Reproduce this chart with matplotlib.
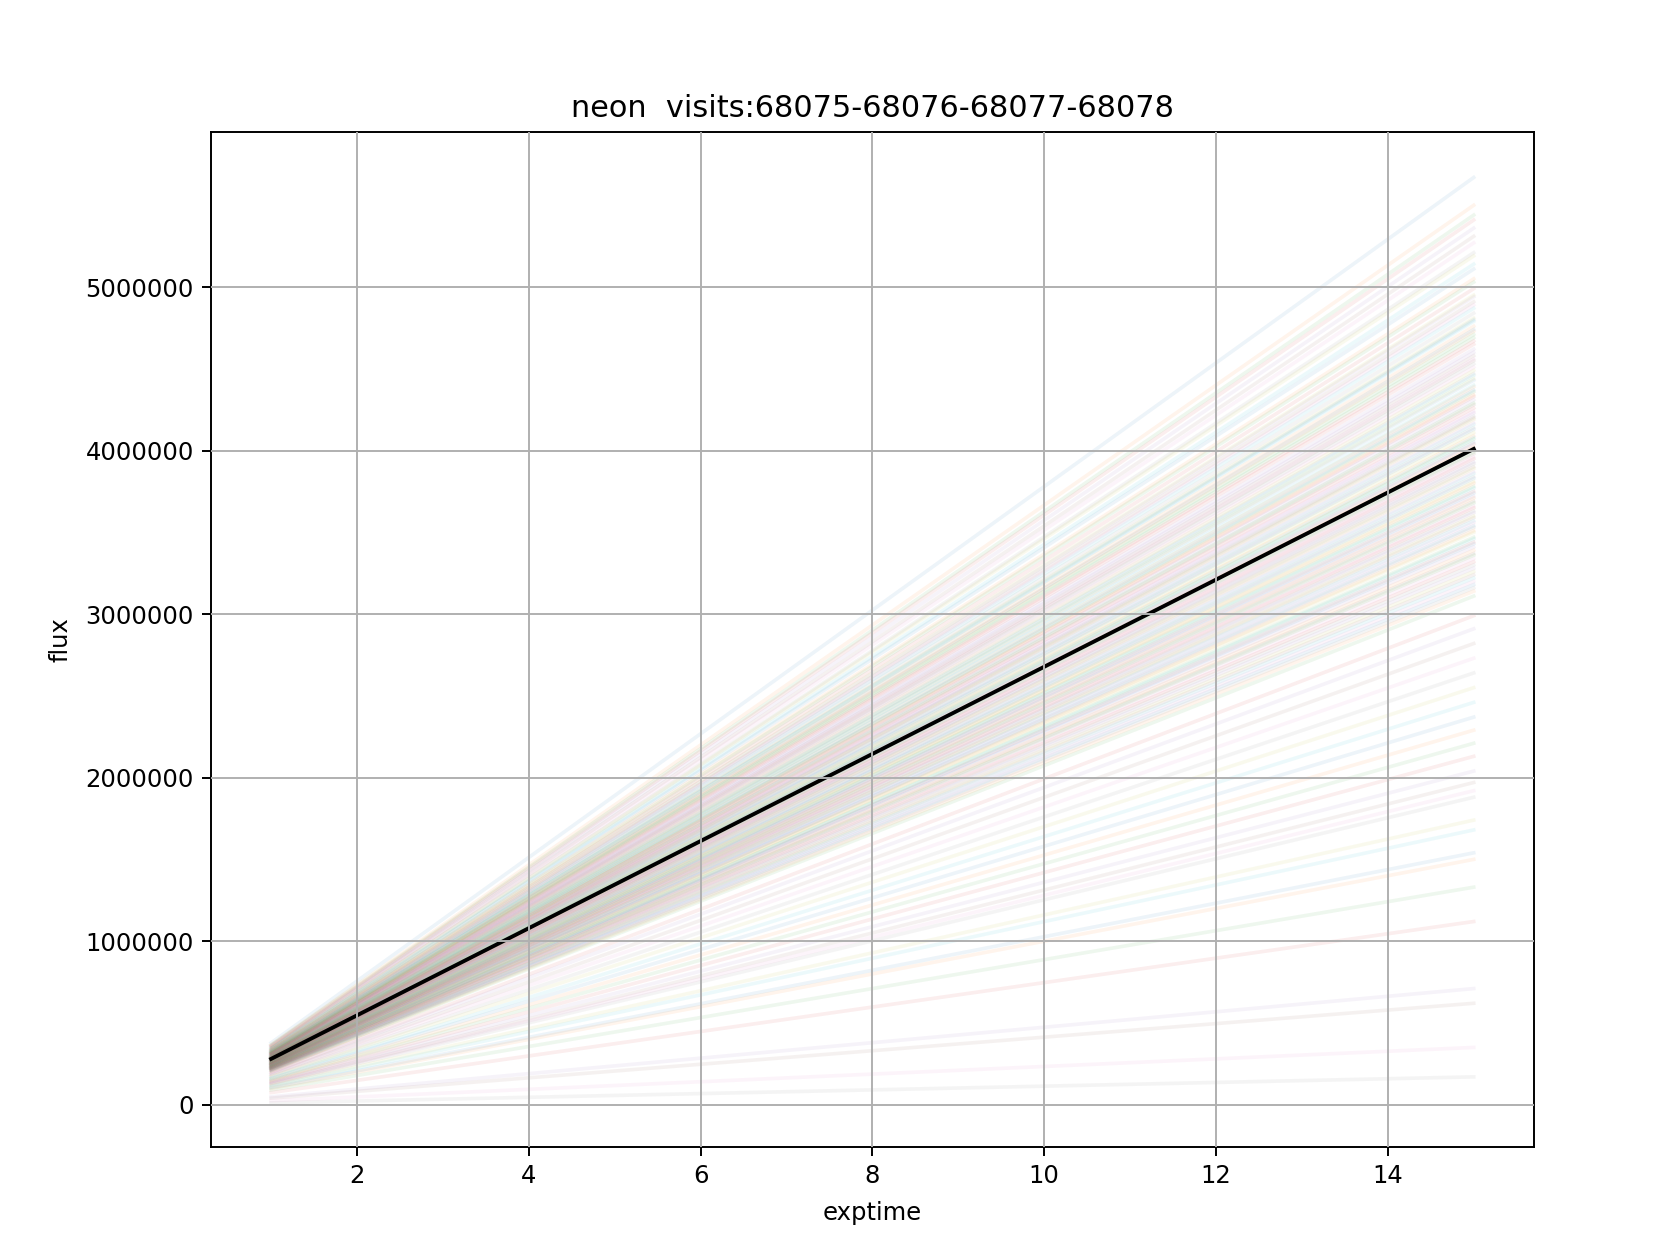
import matplotlib
matplotlib.use("Agg")
import matplotlib.pyplot as plt

# exposure times (s) at which each fibre's flux is shown
exptime = [1, 15]

# flux per fibre at the shortest and longest exposure
flux_start = [378000, 366000, 364000, 360000, 358000, 353000, 352000, 346000, 347000, 342000,
              341000, 338000, 334000, 333000, 330000, 326000, 327000, 322000, 321000, 320000,
              315000, 316000, 312000, 311000, 309000, 304000, 305000, 301000, 300000, 296000,
              296000, 293000, 290000, 289000, 288000, 284000, 283000, 281000, 278000, 278000,
              274000, 273000, 270000, 270000, 266000, 266000, 263000, 262000, 258000, 258000,
              254000, 254000, 251000, 250000, 247000, 247000, 243000, 243000, 239000, 239000,
              235000, 235000, 230000, 230000, 226000, 226000, 222000, 221000, 216000, 216000,
              213000, 208000, 208000, 198000, 195000, 187000, 183000, 175000, 171000, 163000,
              159000, 152000, 148000, 141000, 137000, 130000, 129000, 124000, 117000, 111000,
              104000, 99000, 90000, 74000, 48000, 40000, 24000, 11000,
              330000, 325000, 320000, 317000, 314000, 310000, 307000, 303000, 301000, 298000,
              296000, 293000, 291000, 289000, 286000, 284000, 282000, 280000, 278000, 276000,
              274000, 272000, 270000, 268000, 266000, 263000, 262000, 260000, 258000, 256000,
              254000, 251000, 249000, 247000, 245000, 243000, 241000, 239000, 237000, 235000,
              233000, 231000, 229000, 226000, 224000, 221000, 219000, 216000, 213000, 211000]
flux_end = [5670000, 5500000, 5440000, 5410000, 5360000, 5310000, 5270000, 5210000, 5190000, 5140000,
            5110000, 5050000, 5030000, 4990000, 4940000, 4910000, 4890000, 4840000, 4810000, 4790000,
            4740000, 4730000, 4690000, 4670000, 4620000, 4580000, 4560000, 4530000, 4490000, 4460000,
            4430000, 4390000, 4360000, 4330000, 4310000, 4280000, 4240000, 4210000, 4190000, 4160000,
            4130000, 4090000, 4070000, 4040000, 4010000, 3980000, 3960000, 3920000, 3890000, 3860000,
            3830000, 3800000, 3780000, 3750000, 3720000, 3690000, 3660000, 3630000, 3600000, 3570000,
            3540000, 3510000, 3470000, 3440000, 3410000, 3370000, 3340000, 3300000, 3260000, 3220000,
            3180000, 3140000, 3110000, 2990000, 2910000, 2820000, 2730000, 2640000, 2550000, 2460000,
            2370000, 2290000, 2210000, 2130000, 2040000, 1970000, 1920000, 1880000, 1740000, 1680000,
            1540000, 1500000, 1330000, 1120000, 710000, 620000, 350000, 170000,
            4950000, 4870000, 4800000, 4760000, 4710000, 4650000, 4600000, 4550000, 4510000, 4470000,
            4440000, 4400000, 4370000, 4340000, 4290000, 4260000, 4230000, 4200000, 4170000, 4140000,
            4110000, 4080000, 4050000, 4020000, 3990000, 3950000, 3930000, 3900000, 3870000, 3840000,
            3810000, 3770000, 3740000, 3710000, 3680000, 3650000, 3620000, 3590000, 3560000, 3530000,
            3500000, 3460000, 3430000, 3390000, 3360000, 3320000, 3280000, 3240000, 3200000, 3160000]

# mean flux over all fibres
mean_flux = [280000, 4010000]

fig, ax = plt.subplots(figsize=(9.6, 7.166), dpi=175)
fig.subplots_adjust(left=0.1256, right=0.913, bottom=0.0853, top=0.8947)

for f0, f1 in zip(flux_start, flux_end):
    ax.plot(exptime, [f0, f1], lw=1.5, alpha=0.08)

ax.plot(exptime, mean_flux, color='k', lw=1.6)

ax.set_xlim(0.3, 15.7)
ax.set_ylim(-259000, 5948000)
ax.ticklabel_format(axis='y', style='plain', useOffset=False)
ax.grid(True)
ax.set_axisbelow(False)
ax.set_title('neon  visits:68075-68076-68077-68078', fontsize=12.5)
ax.set_xlabel('exptime', labelpad=5.5)
ax.set_ylabel('flux', labelpad=5.5)

fig.savefig('out.png', dpi=175)
